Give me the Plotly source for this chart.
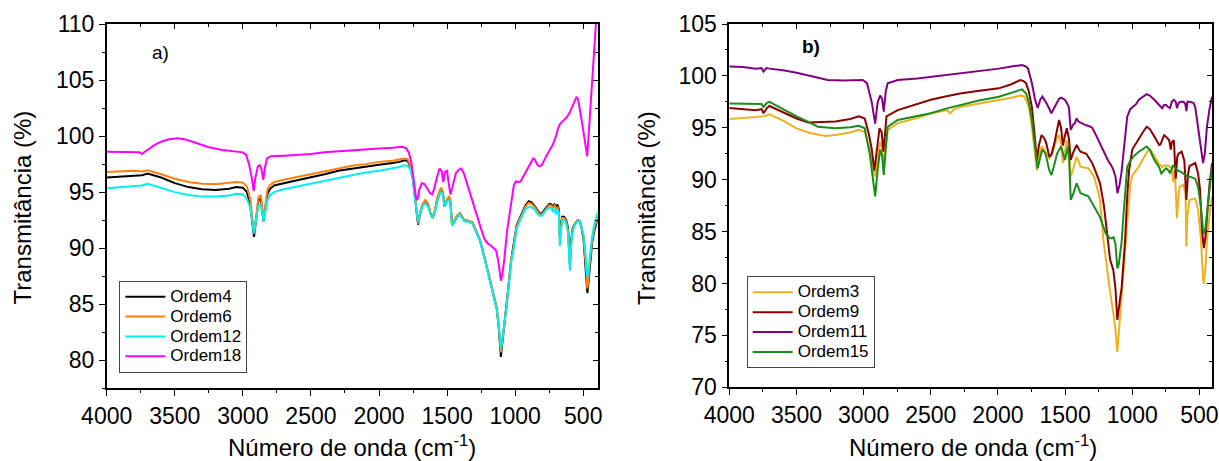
import plotly.graph_objects as go

W, H = 1219, 461
FONT = "Liberation Sans, Arial, sans-serif"

# ---------------- panel a) ----------------
wn_a = [4000, 3900, 3800, 3740, 3700, 3600, 3500, 3400, 3300, 3200,
        3100, 3050, 3000, 2970, 2945, 2918, 2903, 2885, 2868, 2848,
        2835, 2820, 2800, 2770, 2700, 2600, 2500, 2400, 2300, 2200,
        2100, 2000, 1900, 1850, 1815, 1790, 1770, 1752, 1733, 1713,
        1700, 1682, 1660, 1640, 1622, 1607, 1590, 1570, 1545, 1532,
        1519, 1500, 1486, 1476, 1464, 1450, 1430, 1405, 1390, 1375,
        1350, 1315, 1290, 1260, 1230, 1200, 1170, 1150, 1135, 1120,
        1105, 1095, 1080, 1065, 1050, 1030, 1010, 990, 970, 950,
        925, 900, 880, 860, 840, 820, 805, 785, 765, 750,
        735, 725, 712, 700, 690, 680, 672, 665, 655, 640,
        625, 612, 605, 598, 590, 578, 560, 540, 525, 512,
        498, 487, 478, 470, 462, 450, 435, 420, 405, 394]

ordem4 = [96.3, 96.4, 96.5, 96.5, 96.65, 96.3, 95.8, 95.45, 95.25, 95.2,
          95.3, 95.45, 95.4, 95.0, 93.8, 91.0, 92.5, 94.3, 94.4, 92.4,
          93.5, 94.8, 95.3, 95.6, 95.8, 96.05, 96.3, 96.6, 96.9, 97.1,
          97.3, 97.45, 97.6, 97.7, 97.85, 97.8, 97.3, 96.3, 94.2, 92.1,
          93.0, 93.8, 94.2, 93.9, 93.1, 92.7, 93.3, 94.5, 95.3, 95.0,
          93.7, 94.3, 94.5, 94.2, 92.1, 92.3, 92.8, 93.1, 92.8, 92.5,
          92.45, 92.3, 91.6, 90.75, 89.4, 87.9, 86.4, 85.4, 84.6, 82.8,
          80.3, 81.5, 83.0, 84.6, 86.5, 88.9, 90.3, 92.0, 92.6, 93.2,
          93.8, 94.2, 94.1, 93.8, 93.4, 93.1, 93.1, 93.4, 93.8, 93.95,
          93.9, 93.7, 93.9, 93.6, 93.9, 93.5, 91.0, 92.0, 92.8, 92.8,
          92.5, 91.8, 90.5, 88.6, 90.5, 91.8, 92.2, 92.5, 92.4, 91.8,
          90.8, 89.2, 87.5, 86.0, 86.9, 88.8, 90.5, 91.5, 92.1, 92.6]

ordem6 = [96.8, 96.85, 96.9, 96.85, 96.95, 96.6, 96.2, 95.9, 95.75, 95.7,
          95.8, 95.9, 95.85, 95.5, 94.3, 91.4, 92.8, 94.6, 94.7, 92.6,
          93.8, 95.2, 95.65, 95.9, 96.1, 96.35, 96.6, 96.9, 97.15, 97.35,
          97.5, 97.7, 97.8, 97.9, 98.0, 97.95, 97.4, 96.4, 94.3, 92.2,
          93.1, 93.9, 94.3, 94.0, 93.2, 92.8, 93.4, 94.6, 95.4, 95.1,
          93.8, 94.4, 94.6, 94.3, 92.2, 92.4, 92.9, 93.1, 92.8, 92.5,
          92.45, 92.3, 91.6, 90.75, 89.4, 87.9, 86.4, 85.4, 84.7, 83.0,
          80.7, 81.7, 83.1, 84.6, 86.5, 88.9, 90.2, 91.9, 92.5, 93.1,
          93.7, 94.05, 93.95, 93.7, 93.3, 93.0, 93.0, 93.3, 93.7, 93.85,
          93.8, 93.6, 93.8, 93.5, 93.7, 93.3, 90.6, 91.8, 92.7, 92.7,
          92.4, 91.6, 90.2, 88.3, 90.3, 91.7, 92.2, 92.5, 92.4, 91.9,
          91.0, 89.5, 88.0, 86.4, 87.2, 89.0, 90.7, 91.7, 92.4, 92.9]

ordem12 = [95.35, 95.45, 95.55, 95.6, 95.75, 95.4, 95.0, 94.75, 94.6, 94.6,
           94.7, 94.85, 94.8, 94.4, 93.6, 91.3, 92.5, 93.8, 93.9, 92.4,
           93.2, 94.3, 94.75, 95.0, 95.25, 95.5, 95.8, 96.05, 96.3, 96.55,
           96.75, 96.9, 97.1, 97.25, 97.4, 97.35, 97.0, 96.1, 94.2, 92.3,
           93.0, 93.7, 94.0, 93.7, 93.0, 92.7, 93.2, 94.3, 95.0, 94.8,
           93.7, 94.2, 94.3, 94.0, 92.0, 92.2, 92.7, 93.0, 92.7, 92.4,
           92.35, 92.2, 91.5, 90.7, 89.3, 87.8, 86.3, 85.2, 84.5, 83.0,
           81.0, 81.9, 83.2, 84.6, 86.4, 88.7, 90.0, 91.7, 92.3, 92.9,
           93.5, 93.7, 93.65, 93.45, 93.1, 92.9, 92.9, 93.2, 93.5, 93.6,
           93.6, 93.3, 93.5, 93.0, 93.5, 93.1, 90.2, 91.5, 92.5, 92.5,
           92.2, 91.3, 89.8, 88.0, 90.0, 91.5, 92.1, 92.4, 92.4, 91.9,
           91.2, 90.0, 88.8, 87.4, 88.0, 89.5, 91.0, 92.1, 92.8, 93.2]

wn_18 = [4000, 3850, 3760, 3740, 3720, 3650, 3600, 3550, 3480, 3420,
         3350, 3250, 3150, 3050, 3000, 2975, 2955, 2935, 2920, 2908,
         2890, 2875, 2862, 2850, 2838, 2822, 2795, 2700, 2600, 2500,
         2400, 2300, 2200, 2100, 2000, 1900, 1830, 1800, 1780, 1762,
         1745, 1728, 1718, 1705, 1685, 1665, 1645, 1625, 1610, 1595,
         1575, 1555, 1540, 1528, 1515, 1500, 1485, 1475, 1460, 1435,
         1415, 1395, 1375, 1335, 1305, 1280, 1250, 1225, 1200, 1175,
         1155, 1140, 1125, 1112, 1105, 1095, 1080, 1060, 1040, 1025,
         1010, 995, 975, 960, 935, 910, 885, 868, 855, 840,
         825, 805, 785, 765, 745, 725, 710, 700, 685, 670,
         645, 620, 600, 580, 565, 551, 538, 525, 512, 500,
         490, 480, 471, 462, 452, 440, 428, 415, 405, 394]
ordem18 = [98.6, 98.6, 98.55, 98.4, 98.6, 99.2, 99.5, 99.7, 99.8, 99.7,
           99.4, 99.0, 98.75, 98.6, 98.55, 98.3, 97.5, 96.3, 95.1, 96.3,
           97.3, 97.4, 97.0, 96.1, 97.2, 98.0, 98.2, 98.25, 98.3, 98.4,
           98.55, 98.65, 98.75, 98.8, 98.9, 98.95, 99.05, 98.9, 98.5, 97.6,
           96.0, 94.5, 94.3, 95.2, 95.8, 95.7, 95.3, 94.9, 94.8, 95.3,
           96.3, 97.1, 96.9, 95.9, 96.8, 96.9, 95.5, 94.8, 95.5, 96.7,
           97.0, 97.1, 96.6, 95.0, 93.7, 92.9, 91.7, 90.8, 90.4, 90.2,
           90.0, 89.8, 88.9, 87.5, 87.1, 87.6, 89.0, 91.5, 93.2, 94.6,
           95.6, 95.95, 95.9, 95.95, 96.5, 97.1, 97.7, 98.0, 97.9, 97.5,
           97.3, 97.4, 97.9, 98.4, 98.8, 99.2, 99.7, 100.0, 100.7, 101.1,
           101.4, 101.7, 102.1, 102.6, 103.0, 103.45, 103.3, 102.5, 101.4, 100.5,
           99.6, 98.8, 98.2, 99.8, 101.8, 104.0, 106.5, 109.0, 111.0, 112.5]

# ---------------- panel b) ----------------
wn_3 = [4000, 3900, 3803, 3745, 3701, 3600, 3499, 3400, 3282, 3209,
        3100, 3036, 2992, 2955, 2935, 2914, 2895, 2877, 2862, 2850,
        2835, 2821, 2746, 2600, 2500, 2380, 2355, 2330, 2283, 2150,
        1993, 1900, 1834, 1810, 1791, 1770, 1747, 1728, 1710, 1695,
        1675, 1655, 1640, 1617, 1600, 1580, 1560, 1545, 1530, 1516,
        1500, 1487, 1472, 1458, 1440, 1414, 1400, 1385, 1327, 1298,
        1284, 1255, 1240, 1215, 1190, 1165, 1141, 1125, 1111, 1100,
        1090, 1081, 1066, 1050, 1037, 1029, 1015, 1000, 951, 920,
        878, 860, 835, 800, 777, 763, 748, 719, 705, 696,
        684, 676, 667, 655, 647, 618, 603, 597, 589, 574,
        545, 531, 510, 490, 473, 467, 455, 444, 425, 406]
ordem3 = [95.85, 95.95, 96.0, 96.1, 96.3, 95.7, 94.95, 94.5, 94.2, 94.3,
          94.55, 94.8, 94.6, 92.9, 91.5, 90.3, 92.0, 93.65, 93.0, 91.25,
          93.2, 94.8, 95.45, 95.95, 96.4, 96.7, 96.4, 96.75, 97.0, 97.3,
          97.7, 97.9, 98.1, 98.05, 97.7, 97.0, 95.1, 92.8, 90.9, 92.3,
          93.2, 92.9, 92.55, 92.05, 92.4, 93.3, 94.0, 94.3, 93.5, 91.6,
          92.9, 93.8, 93.0, 90.3, 91.0, 92.2, 91.8, 91.25, 91.1, 90.5,
          90.3, 88.9, 88.05, 84.2, 81.5, 79.2, 77.2, 75.5, 73.4, 75.3,
          76.5, 78.5, 81.0, 83.5, 85.2, 87.5, 89.5, 90.4, 91.25, 92.0,
          92.9, 92.8, 92.2, 91.5, 91.25, 91.35, 91.4, 91.25, 91.1, 89.8,
          90.95, 89.0, 86.3, 88.5, 89.3, 89.5, 88.5, 83.55, 86.5, 88.05,
          88.2, 88.2, 87.1, 84.5, 80.5, 80.0, 81.5, 84.2, 86.5, 88.4]

wn_9 = [4000, 3900, 3803, 3760, 3745, 3720, 3701, 3600, 3499, 3412,
        3300, 3209, 3100, 3036, 2992, 2963, 2940, 2920, 2900, 2882,
        2866, 2853, 2840, 2830, 2746, 2600, 2500, 2400, 2283, 2150,
        1993, 1900, 1834, 1810, 1791, 1770, 1747, 1728, 1710, 1695,
        1675, 1655, 1640, 1617, 1600, 1580, 1560, 1545, 1530, 1516,
        1500, 1487, 1472, 1458, 1440, 1414, 1400, 1385, 1342, 1298,
        1270, 1240, 1211, 1185, 1165, 1141, 1125, 1111, 1100, 1090,
        1079, 1066, 1053, 1037, 1023, 1000, 951, 920, 893, 870,
        835, 800, 790, 763, 745, 725, 713, 705, 690, 676,
        665, 655, 632, 612, 597, 585, 574, 545, 531, 510,
        495, 480, 467, 455, 440, 425, 406]
ordem9 = [96.9, 96.8, 96.7, 96.8, 96.4, 96.9, 97.1, 96.5, 95.9, 95.5,
          95.55, 95.6, 95.85, 96.1, 95.9, 94.5, 93.0, 90.9, 93.0, 94.95,
          94.6, 92.7, 94.5, 96.1, 96.7, 97.3, 97.7, 98.0, 98.3, 98.55,
          98.8, 99.2, 99.6, 99.5, 99.3, 98.5, 97.0, 94.5, 91.9, 93.3,
          94.3, 94.0, 93.5, 92.2, 92.5, 93.5, 94.8, 95.75, 95.0, 93.3,
          94.3, 94.95, 94.0, 91.9, 92.6, 93.35, 93.0, 92.7, 92.5, 91.6,
          90.7, 89.65, 87.5, 84.2, 82.3, 81.3, 79.5, 76.5, 77.8, 78.6,
          79.6, 82.0, 84.2, 88.5, 91.0, 92.9, 94.0, 94.6, 95.1, 94.9,
          94.15, 93.35, 93.4, 94.3, 94.1, 93.8, 92.9, 93.6, 93.8, 90.1,
          92.2, 92.5, 92.7, 91.8, 88.05, 90.5, 91.3, 91.5, 91.6, 90.6,
          89.0, 85.0, 83.4, 84.5, 87.4, 89.5, 91.6]

wn_11 = [4000, 3900, 3803, 3760, 3745, 3725, 3701, 3600, 3499, 3400,
         3300, 3267, 3150, 3007, 2975, 2963, 2940, 2914, 2895, 2877,
         2862, 2850, 2835, 2821, 2746, 2600, 2500, 2350, 2196, 2100,
         1993, 1900, 1820, 1791, 1776, 1747, 1725, 1704, 1685, 1669,
         1650, 1631, 1602, 1585, 1565, 1545, 1530, 1501, 1487, 1472,
         1458, 1440, 1429, 1414, 1400, 1385, 1356, 1320, 1298, 1270,
         1240, 1211, 1182, 1153, 1139, 1125, 1110, 1095, 1081, 1066,
         1050, 1037, 1015, 994, 970, 951, 920, 893, 870, 835,
         800, 777, 763, 748, 733, 719, 705, 690, 676, 667,
         655, 640, 618, 605, 597, 589, 574, 545, 531, 510,
         490, 473, 460, 444, 425, 406]
ordem11 = [100.9, 100.85, 100.7, 100.75, 100.4, 100.75, 100.7, 100.55, 100.3, 100.0,
           99.75, 99.6, 99.55, 99.6, 99.3, 98.6, 97.5, 95.4, 97.5, 98.1,
           97.8, 96.55, 98.5, 99.3, 99.6, 99.75, 99.9, 100.15, 100.4, 100.55,
           100.7, 100.9, 101.05, 100.9, 100.7, 99.3, 97.8, 96.9, 97.7, 98.0,
           97.6, 97.2, 96.4, 96.8, 97.35, 97.8, 97.9, 97.7, 97.4, 97.0,
           94.8, 95.3, 95.4, 95.9, 95.6, 95.5, 95.3, 95.15, 95.0, 94.3,
           93.5, 92.6, 91.9, 91.3, 90.9, 90.3, 88.7, 89.5, 90.6, 92.5,
           94.5, 96.1, 96.8, 97.0, 97.3, 97.7, 98.0, 98.25, 98.1, 97.7,
           97.2, 96.9, 97.2, 97.2, 97.0, 96.9, 97.5, 97.7, 97.5, 96.9,
           97.4, 97.5, 97.5, 97.3, 96.6, 97.5, 97.5, 97.4, 97.0, 95.1,
           93.0, 91.6, 92.5, 95.1, 96.8, 98.0]

wn_15 = [4000, 3900, 3803, 3760, 3745, 3720, 3701, 3600, 3499, 3400,
         3341, 3209, 3100, 3036, 2992, 2955, 2935, 2914, 2895, 2877,
         2862, 2850, 2835, 2821, 2746, 2600, 2500, 2400, 2283, 2150,
         1993, 1900, 1820, 1791, 1770, 1747, 1728, 1704, 1688, 1669,
         1650, 1640, 1620, 1602, 1585, 1560, 1530, 1516, 1501, 1487,
         1478, 1470, 1458, 1440, 1414, 1400, 1385, 1327, 1284, 1240,
         1197, 1168, 1153, 1139, 1125, 1111, 1101, 1090, 1079, 1066,
         1050, 1037, 1015, 994, 951, 920, 893, 870, 835, 800,
         783, 763, 748, 725, 719, 705, 696, 680, 661, 632,
         603, 589, 574, 545, 531, 510, 490, 473, 464, 455,
         440, 425, 406]
ordem15 = [97.35, 97.3, 97.25, 97.3, 97.0, 97.4, 97.5, 96.8, 96.1, 95.5,
           95.1, 94.95, 95.05, 95.2, 94.95, 92.55, 90.5, 88.4, 91.0, 92.9,
           92.3, 90.45, 93.0, 95.1, 95.75, 96.1, 96.4, 96.8, 97.2, 97.6,
           98.0, 98.35, 98.7, 98.3, 97.5, 95.75, 93.5, 91.1, 92.0, 92.9,
           92.6, 92.2, 91.0, 90.45, 91.2, 92.5, 93.2, 92.6, 91.9, 92.7,
           93.2, 92.0, 88.05, 88.6, 89.65, 89.2, 88.7, 88.4, 87.4, 86.4,
           84.8, 84.4, 84.35, 84.45, 83.8, 81.45, 81.8, 82.7, 84.0, 86.5,
           89.5, 91.25, 91.8, 92.2, 92.7, 93.0, 93.2, 92.9, 91.9, 91.2,
           90.6, 90.9, 91.1, 90.8, 90.6, 91.1, 91.4, 91.1, 90.9, 90.7,
           90.4, 90.3, 90.3, 90.2, 90.1, 89.3, 87.5, 85.2, 84.8, 85.4,
           87.4, 89.4, 91.25]

x_ticks = [4000, 3500, 3000, 2500, 2000, 1500, 1000, 500]
x_ticklabels = ["4000", "3500", "3000", "2500", "2000", "1500", "1000", "500"]

series_a = [("Ordem4", wn_a, ordem4, "#000000"),
            ("Ordem6", wn_a, ordem6, "#FF7F0E"),
            ("Ordem12", wn_a, ordem12, "#00F0F0"),
            ("Ordem18", wn_18, ordem18, "#FF00FF")]
series_b = [("Ordem3", wn_3, ordem3, "#EDB120"),
            ("Ordem9", wn_9, ordem9, "#8B0000"),
            ("Ordem11", wn_11, ordem11, "#800080"),
            ("Ordem15", wn_15, ordem15, "#1A8C1A")]

LEG_SPAN = "<span style='font-size:17px'>%s</span>"

fig = go.Figure()
for name, xs, ys, col in series_a:
    fig.add_trace(go.Scatter(x=xs, y=ys, name=LEG_SPAN % name, mode="lines",
                             line=dict(color=col, width=2), xaxis="x", yaxis="y",
                             legend="legend"))
for name, xs, ys, col in series_b:
    fig.add_trace(go.Scatter(x=xs, y=ys, name=LEG_SPAN % name, mode="lines",
                             line=dict(color=col, width=2), xaxis="x2", yaxis="y2",
                             legend="legend2"))
# carriers for the mirrored (inside) tick axes
for xa, ya in (("x3", "y3"), ("x4", "y4")):
    fig.add_trace(go.Scatter(x=[None], y=[None], xaxis=xa, yaxis=ya,
                             showlegend=False, hoverinfo="skip"))

dom_a = [106.7 / W, 597.7 / W]
dom_b = [729.3 / W, 1212.3 / W]
ydom_a = [1 - 388.3 / H, 1 - 24 / H]
ydom_b = [1 - 387.3 / H, 1 - 24 / H]
xr_a = [4000, 394]
xr_b = [4000, 404]
yr_a = [77.5, 110]
yr_b = [70, 105]

tickfont = dict(family=FONT, size=23, color="black")


def xax(dom, rng, anchor):
    return dict(domain=dom, range=rng, anchor=anchor, automargin=False,
                tickmode="array",
                tickvals=x_ticks, ticktext=x_ticklabels, ticks="outside",
                ticklen=6, tickwidth=1.3, tickcolor="black",
                minor=dict(ticks="outside", ticklen=3, dtick=250, tick0=0,
                           tickcolor="black", tickwidth=1.2),
                showline=True, linecolor="black", linewidth=1.6, mirror=True,
                showgrid=False, zeroline=False, tickfont=tickfont)


def yax(dom, rng, anchor):
    return dict(domain=dom, range=rng, anchor=anchor, automargin=False,
                tickmode="linear",
                tick0=0, dtick=5, ticks="outside", ticklen=6, tickwidth=1.3,
                tickcolor="black",
                minor=dict(ticks="outside", ticklen=3, dtick=2.5, tick0=0,
                           tickcolor="black", tickwidth=1.2),
                showline=True, linecolor="black", linewidth=1.6, mirror=True,
                showgrid=False, zeroline=False, tickfont=tickfont)


def xin(over, rng, anchor):
    return dict(overlaying=over, side="top", anchor=anchor, range=rng,
                automargin=False,
                tickmode="array", tickvals=x_ticks, ticks="inside", ticklen=5,
                tickwidth=1.2, tickcolor="black", showticklabels=False,
                minor=dict(ticks="inside", ticklen=3, dtick=250, tick0=0,
                           tickcolor="black"),
                showline=False, showgrid=False, zeroline=False)


def yin(over, rng, anchor):
    return dict(overlaying=over, side="right", anchor=anchor, range=rng,
                automargin=False,
                tickmode="linear", tick0=0, dtick=5, ticks="inside", ticklen=5,
                tickwidth=1.2, tickcolor="black", showticklabels=False,
                minor=dict(ticks="inside", ticklen=3, dtick=2.5, tick0=0,
                           tickcolor="black"),
                showline=False, showgrid=False, zeroline=False)


leg_common = dict(xanchor="left", yanchor="bottom", bgcolor="white",
                  bordercolor="#444444", borderwidth=1,
                  font=dict(family=FONT, size=13, color="black"),
                  tracegroupgap=0, itemwidth=40)

fig.update_layout(
    width=W, height=H, autosize=False,
    margin=dict(l=0, r=0, t=0, b=0, autoexpand=False),
    paper_bgcolor="white", plot_bgcolor="white",
    font=dict(family=FONT, color="black"),
    xaxis=xax(dom_a, xr_a, "y"),
    yaxis=yax(ydom_a, yr_a, "x"),
    xaxis2=xax(dom_b, xr_b, "y2"),
    yaxis2=yax(ydom_b, yr_b, "x2"),
    xaxis3=xin("x", xr_a, "y3"),
    yaxis3=yin("y", yr_a, "x3"),
    xaxis4=xin("x2", xr_b, "y4"),
    yaxis4=yin("y2", yr_b, "x4"),
    legend=dict(x=119.3 / W, y=1 - 372.7 / H, **leg_common),
    legend2=dict(x=746.7 / W, y=1 - 368.3 / H, **leg_common),
    showlegend=True,
)

ann = [
    dict(text="a)", x=160 / W, y=1 - 52 / H, font=dict(size=19)),
    dict(text="<b>b)</b>", x=811 / W, y=1 - 47 / H, font=dict(size=19)),
    dict(text="Transmitância (%)", x=21.5 / W, y=1 - 208 / H, textangle=-90,
         font=dict(size=24)),
    dict(text="Transmitância (%)", x=646 / W, y=1 - 208 / H, textangle=-90,
         font=dict(size=24)),
    dict(text="Número de onda (cm<sup>-1</sup>)", x=352 / W, y=1 - 446 / H,
         font=dict(size=24)),
    dict(text="Número de onda (cm<sup>-1</sup>)", x=973 / W, y=1 - 446 / H,
         font=dict(size=24)),
]
for a in ann:
    fig.add_annotation(xref="paper", yref="paper", showarrow=False,
                       xanchor="center", yanchor="middle",
                       font_family=FONT, font_color="black",
                       **{k: v for k, v in a.items()})

fig.write_html("out.html")
